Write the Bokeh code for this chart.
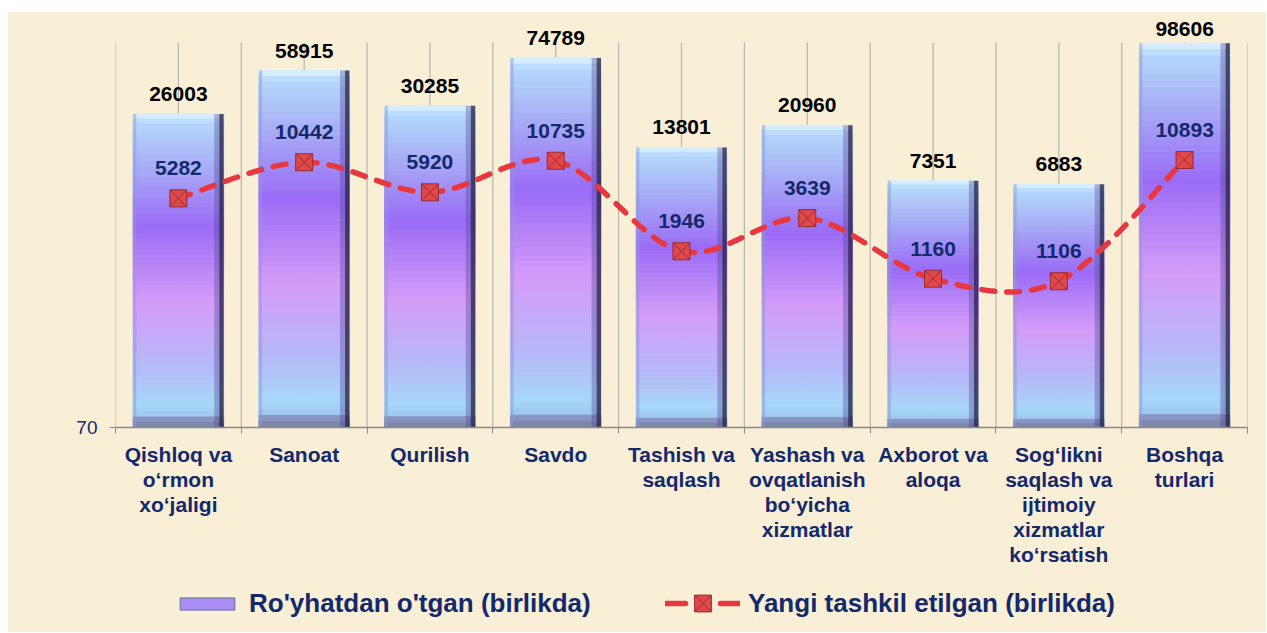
import numpy as np
from bokeh.plotting import figure
from bokeh.layouts import column, row
from bokeh.models import Range1d, FixedTicker, Legend, LegendItem, Spacer
from bokeh.embed import file_html
from bokeh.resources import INLINE
from bokeh.core.properties import value

# ---------------- data ----------------
categories = [
    "Qishloq va\no\u2018rmon\nxo\u2018jaligi",
    "Sanoat",
    "Qurilish",
    "Savdo",
    "Tashish va\nsaqlash",
    "Yashash va\novqatlanish\nbo\u2018yicha\nxizmatlar",
    "Axborot va\naloqa",
    "Sog\u2018likni\nsaqlash va\nijtimoiy\nxizmatlar\nko\u2018rsatish",
    "Boshqa\nturlari",
]
registered = [26003, 58915, 30285, 74789, 13801, 20960, 7351, 6883, 98606]
new_created = [5282, 10442, 5920, 10735, 1946, 3639, 1160, 1106, 10893]
series_names = ["Ro'yhatdan o'tgan (birlikda)", "Yangi tashkil etilgan (birlikda)"]
y_tick_values = [70]
y_min, y_max = 70, 100000

# ---------------- style ----------------
NAVY = "#13296b"
BG = "#f9eed6"
GRID = "#b9b6ae"
RED = "#e8383f"
FONT = "Liberation Sans"

W = 1258
H1, H2 = 565, 55
frame_h = 415          # frame from page y=12 to y=427
grid_gap = 30          # grid lines start 30px below frame top
px_per_dec = (frame_h - grid_gap) / np.log10(y_max / y_min)
y_top = y_max * 10 ** (grid_gap / px_per_dec)

n = len(categories)
p = figure(width=W, height=H1, output_backend="svg", toolbar_location=None,
           y_axis_type="log", x_range=Range1d(0, n), y_range=Range1d(y_min, y_top),
           min_border_left=107, min_border_right=19, min_border_top=0,
           min_border_bottom=H1 - frame_h,
           background_fill_color=BG, border_fill_color=BG, outline_line_color=None)
p.xgrid.visible = False
p.ygrid.visible = False

# vertical grid lines at category centres and boundaries (from y_min to y_max)
gx = np.arange(0, 2 * n + 1) / 2.0
p.segment(x0=gx, y0=[y_min] * len(gx), x1=gx, y1=[y_max] * len(gx),
          line_color=GRID, line_width=1.2)

# ---------------- bars (gradient approximated with bands) ----------------
stops = [
    (0.00, "#e2f5ff"), (0.03, "#b4d8fa"), (0.16, "#a8b0f6"), (0.36, "#9a6cf6"),
    (0.60, "#d49cf8"), (0.80, "#b6b8f8"), (0.93, "#a6d8f8"), (0.962, "#a0c8f0"),
    (0.972, "#8a96c6"), (1.00, "#76809e"),
]

def hex2rgb(h):
    h = h.lstrip("#")
    return np.array([int(h[i:i + 2], 16) for i in (0, 2, 4)], dtype=float)

def color_at(t):
    for (t0, c0), (t1, c1) in zip(stops[:-1], stops[1:]):
        if t <= t1:
            f = 0 if t1 == t0 else (t - t0) / (t1 - t0)
            c = hex2rgb(c0) * (1 - f) + hex2rgb(c1) * f
            return "#%02x%02x%02x" % tuple(int(round(v)) for v in c)
    return stops[-1][1]

xc = np.arange(n) + 0.5
bw = 0.36
ltop = np.log10(registered)
lbot = np.log10(y_min)
NB = 60
for k in range(NB):
    t0, t1 = k / NB, (k + 1) / NB
    tops = 10 ** (ltop - t0 * (ltop - lbot))
    bots = 10 ** (ltop - t1 * (ltop - lbot))
    c = color_at((t0 + t1) / 2)
    p.quad(left=xc - bw, right=xc + bw, top=tops, bottom=bots,
           fill_color=c, line_color=c, line_width=1)

# side shading
p.quad(left=xc + bw - 0.075, right=xc + bw - 0.035, top=registered, bottom=[y_min] * n,
       fill_color="#4a3f90", fill_alpha=0.35, line_color=None)
p.quad(left=xc + bw - 0.035, right=xc + bw, top=registered, bottom=[y_min] * n,
       fill_color="#25254a", fill_alpha=0.8, line_color=None)
p.quad(left=xc - bw, right=xc - bw + 0.025, top=registered, bottom=[y_min] * n,
       fill_color="#8c9bd0", fill_alpha=0.5, line_color=None)

# ---------------- smoothed dashed line (Bezier in screen space) ----------------
ly = np.log10(new_created)
x0s, y0s, x1s, y1s, cx0, cy0, cx1, cy1 = ([] for _ in range(8))
for i in range(n - 1):
    pr = max(i - 1, 0)
    nx = min(i + 2, n - 1)
    x0s.append(xc[i]); y0s.append(new_created[i])
    x1s.append(xc[i + 1]); y1s.append(new_created[i + 1])
    cx0.append(xc[i] + (xc[i + 1] - xc[pr]) / 6)
    cy0.append(10 ** (ly[i] + (ly[i + 1] - ly[pr]) / 6))
    cx1.append(xc[i + 1] - (xc[nx] - xc[i]) / 6)
    cy1.append(10 ** (ly[i + 1] - (ly[nx] - ly[i]) / 6))
p.bezier(x0=x0s, y0=y0s, x1=x1s, y1=y1s, cx0=cx0, cy0=cy0, cx1=cx1, cy1=cy1,
         line_color=RED, line_width=5.5, line_dash="13 12", line_cap="round")
p.scatter(x=xc, y=new_created, marker="square_x", size=17,
          fill_color="#e0484b", line_color="#9a2b2b", line_width=1)

# ---------------- labels ----------------
bar_label_off = [-7 if v > 0.9 * y_max else -13 for v in registered]
p.text(x=xc, y=registered, text=[str(v) for v in registered], text_align="center",
       text_baseline="bottom", y_offset=bar_label_off, text_font=value(FONT),
       text_font_style="bold", text_font_size="21px", text_color="black")
p.text(x=xc, y=new_created, text=[str(v) for v in new_created], text_align="center",
       text_baseline="middle", y_offset=-30, text_font=value(FONT), text_font_style="bold",
       text_font_size="21px", text_color=NAVY)

# ---------------- axes ----------------
xa = p.xaxis[0]
xa.ticker = FixedTicker(ticks=list(xc), minor_ticks=list(np.arange(n + 1)))
xa.major_label_overrides = {float(x): c for x, c in zip(xc, categories)}
xa.major_tick_line_color = None
xa.minor_tick_line_color = "#8a8a8a"
xa.minor_tick_out = 6
xa.minor_tick_in = 0
xa.axis_line_color = "#8a8a8a"
xa.axis_line_width = 1.5
xa.major_label_text_font = FONT
xa.major_label_text_font_style = "bold"
xa.major_label_text_font_size = "21px"
xa.major_label_text_line_height = 1.09
xa.major_label_text_color = NAVY
xa.major_label_standoff = 9

ya = p.yaxis[0]
ya.ticker = FixedTicker(ticks=y_tick_values, minor_ticks=[])
ya.major_label_overrides = {70: "70"}
ya.axis_line_color = None
ya.major_tick_line_color = "#8a8a8a"
ya.major_tick_out = 6
ya.major_tick_in = 0
ya.minor_tick_line_color = None
ya.major_label_text_font = FONT
ya.major_label_text_font_size = "19px"
ya.major_label_text_color = NAVY
ya.major_label_standoff = 12

# ---------------- legend (separate strip below; frames align with main plot) ----------------
q = figure(width=W, height=H2, output_backend="svg", toolbar_location=None,
           x_range=Range1d(0, 1), y_range=Range1d(0, 1),
           x_axis_location=None, y_axis_location=None,
           min_border_left=0, min_border_right=0, min_border_top=0, min_border_bottom=0,
           background_fill_color=BG, border_fill_color=BG, outline_line_color=None)
q.xgrid.visible = False
q.ygrid.visible = False
nanv = np.array([np.nan])
proxy_bar = q.quad(left=nanv, right=nanv, top=nanv, bottom=nanv,
                   fill_color="#aa8ef4", line_color="#7d88b4", line_width=1.5)
proxy_line = q.line(x=nanv, y=nanv, line_color=RED, line_width=5.5,
                    line_dash="20 35", line_cap="round")
proxy_mk = q.scatter(x=nanv, y=nanv, marker="square_x", size=16,
                     fill_color="#e0484b", line_color="#9a2b2b", line_width=1)
common = dict(orientation="horizontal", label_standoff=8, padding=0, margin=0,
              background_fill_alpha=0, border_line_color=None,
              label_text_font=FONT, label_text_font_style="bold",
              label_text_font_size="26px", label_text_color=NAVY)
legend_a = Legend(items=[LegendItem(label=series_names[0], renderers=[proxy_bar])],
                  location=(58, 13), glyph_width=68, glyph_height=15, **common)
legend_b = Legend(items=[LegendItem(label=series_names[1], renderers=[proxy_line, proxy_mk])],
                  location=(550, 8), glyph_width=75, glyph_height=42, **common)
q.add_layout(legend_a)
q.add_layout(legend_b)

bgs = {"background-color": BG}
layout = column(Spacer(height=12, width=W),
                row(Spacer(width=8, height=H1 + H2),
                    column(p, q, styles=bgs, spacing=0), spacing=0),
                spacing=0)
open("out.html", "w").write(file_html(layout, INLINE))
